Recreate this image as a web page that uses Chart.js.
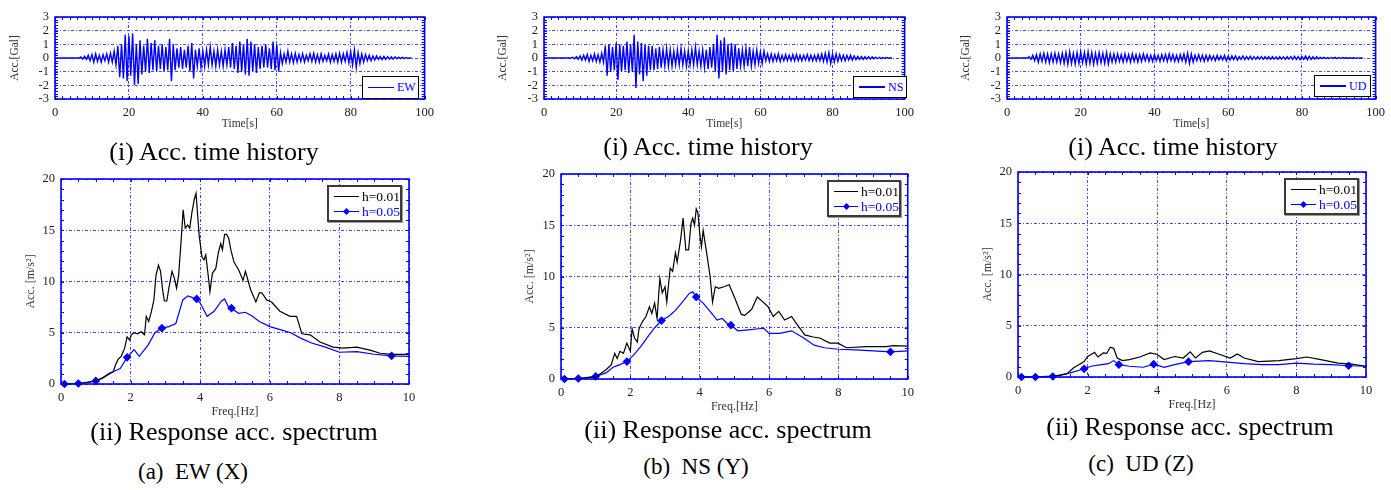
<!DOCTYPE html>
<html>
<head>
<meta charset="utf-8">
<script src="https://cdn.jsdelivr.net/npm/chart.js@4.4.1/dist/chart.umd.min.js"></script>
<style>
body { margin: 0; background: #fff; }
#fig { position: relative; width: 1391px; height: 490px; overflow: hidden; font-family: 'Liberation Serif', 'Times New Roman', serif; }
#fig canvas { position: absolute; }
.cap { position: absolute; transform: translateX(-50%); white-space: pre; line-height: 1; color: #000; }
.leg { position: absolute; background: #fff; box-sizing: border-box; }
.leg .row { display: flex; align-items: center; white-space: nowrap; }
.leg .ln { position: relative; display: inline-block; height: 1.3px; }
.leg .mk { position: absolute; left: 50%; top: 50%; width: 5px; height: 5px; margin: -2.5px 0 0 -2.5px; transform: rotate(45deg); }
.thLeg { border: 1.5px solid #000; }
.thLeg .row { height: 100%; font-size: 12px; }
.spLeg { border: 2px solid #3a3a3a; box-shadow: 1px 1px 0 #999; padding-top: 2px; }
.spLeg .row { height: 15px; font-size: 13.5px; }
</style>
</head>
<body>
<div id="fig"></div>
<script>
/*////////////////////////////// data //////////////////////////////////*/

// acceleration time history, peak (up) and trough (down) per second, t = 0..96 s
const ewUp = [
  0,0,0,0,0,0,0,0.08,0.12,0.2,
  0.25,0.3,0.2,0.25,0.3,0.35,0.5,0.9,1.0,1.7,
  1.6,1.8,1.0,1.3,0.9,1.4,1.1,1.3,0.9,1.0,
  0.8,1.4,1.0,0.7,0.8,0.6,0.9,1.1,0.6,0.7,
  0.5,0.6,0.8,0.5,0.6,0.5,0.6,0.8,1.1,0.9,
  1.2,1.0,1.4,1.2,1.0,0.8,0.9,1.0,0.7,1.2,
  1.0,0.4,0.3,0.5,0.3,0.35,0.25,0.3,0.2,0.3,
  0.35,0.25,0.3,0.2,0.3,0.25,0.3,0.35,0.3,0.4,
  0.45,0.6,0.4,0.3,0.25,0.2,0.15,0.15,0.1,0.12,
  0.1,0.08,0.08,0.06,0.05,0.04,0];
const ewDown = [
  0,0,0,0,0,0,0,-0.08,-0.1,-0.2,
  -0.3,-0.25,-0.3,-0.2,-0.3,-0.3,-0.5,-1.4,-1.5,-1.7,
  -1.3,-2.0,-1.9,-1.2,-1.0,-1.1,-0.9,-1.0,-0.8,-1.0,
  -0.9,-1.7,-0.9,-0.7,-0.8,-0.7,-1.0,-1.5,-0.6,-0.7,
  -0.6,-0.5,-0.5,-0.6,-0.5,-0.6,-0.5,-0.7,-0.8,-1.1,
  -1.0,-1.2,-1.3,-1.0,-1.1,-0.8,-0.7,-0.7,-0.8,-0.9,
  -1.0,-0.4,-0.3,-0.3,-0.35,-0.3,-0.25,-0.3,-0.2,-0.25,
  -0.3,-0.3,-0.25,-0.2,-0.3,-0.25,-0.3,-0.3,-0.25,-0.35,
  -0.5,-0.7,-0.4,-0.3,-0.2,-0.2,-0.15,-0.1,-0.12,-0.1,
  -0.08,-0.08,-0.06,-0.05,-0.05,-0.03,0];

const nsUp = [
  0,0,0,0,0,0,0,0,0.05,0.1,
  0.15,0.2,0.25,0.2,0.3,0.25,0.35,0.9,1.0,0.8,
  1.1,1.0,0.9,1.2,1.0,1.7,1.2,1.1,1.0,0.9,
  0.9,0.7,0.8,0.6,0.7,0.6,0.5,0.6,0.7,0.5,
  0.5,0.6,0.8,0.5,0.6,0.6,0.8,1.0,1.7,1.3,
  1.5,1.0,1.1,1.0,0.7,0.6,0.7,0.8,0.5,0.6,
  0.45,0.5,0.3,0.3,0.25,0.3,0.2,0.25,0.2,0.25,
  0.25,0.2,0.2,0.25,0.2,0.2,0.25,0.3,0.35,0.4,
  0.3,0.3,0.25,0.2,0.2,0.2,0.15,0.12,0.1,0.1,
  0.1,0.08,0.06,0.05,0.04,0.03,0];
const nsDown = [
  0,0,0,0,0,0,0,0,-0.05,-0.1,
  -0.15,-0.15,-0.25,-0.2,-0.25,-0.3,-0.3,-1.3,-1.0,-0.9,
  -1.6,-1.0,-0.9,-1.1,-1.0,-2.2,-1.2,-1.7,-1.3,-0.9,
  -0.9,-0.8,-0.7,-0.6,-0.6,-0.6,-0.5,-0.5,-0.5,-0.6,
  -0.5,-0.5,-0.5,-0.6,-0.7,-0.8,-0.7,-1.0,-1.5,-1.0,
  -1.2,-0.9,-1.0,-0.8,-0.6,-0.6,-0.6,-0.6,-0.5,-0.4,
  -0.4,-0.2,-0.25,-0.25,-0.2,-0.25,-0.2,-0.2,-0.2,-0.2,
  -0.2,-0.2,-0.15,-0.2,-0.2,-0.2,-0.2,-0.25,-0.3,-0.4,
  -0.3,-0.25,-0.2,-0.2,-0.15,-0.15,-0.12,-0.1,-0.1,-0.08,
  -0.08,-0.06,-0.05,-0.04,-0.03,-0.02,0];

const udUp = [
  0,0,0,0,0,0,0.1,0.2,0.25,0.3,
  0.35,0.3,0.3,0.35,0.3,0.35,0.4,0.45,0.35,0.4,
  0.45,0.4,0.45,0.4,0.35,0.4,0.35,0.4,0.3,0.3,
  0.3,0.25,0.3,0.25,0.3,0.25,0.25,0.3,0.25,0.2,
  0.25,0.2,0.25,0.25,0.3,0.25,0.2,0.25,0.3,0.35,
  0.3,0.2,0.25,0.2,0.2,0.2,0.15,0.2,0.15,0.2,
  0.15,0.15,0.15,0.1,0.15,0.1,0.12,0.1,0.1,0.1,
  0.1,0.1,0.1,0.08,0.1,0.08,0.1,0.1,0.12,0.1,
  0.12,0.15,0.12,0.1,0.08,0.05,0.05,0.04,0.04,0.05,
  0.03,0.03,0.02,0.02,0.02,0.01,0];
const udDown = [
  0,0,0,0,0,0,-0.1,-0.2,-0.3,-0.25,
  -0.3,-0.35,-0.3,-0.3,-0.35,-0.4,-0.45,-0.4,-0.45,-0.4,
  -0.35,-0.45,-0.4,-0.45,-0.4,-0.35,-0.4,-0.45,-0.3,-0.3,
  -0.25,-0.3,-0.25,-0.3,-0.25,-0.3,-0.25,-0.2,-0.25,-0.25,
  -0.2,-0.25,-0.2,-0.25,-0.2,-0.25,-0.25,-0.2,-0.3,-0.4,
  -0.3,-0.2,-0.2,-0.25,-0.2,-0.15,-0.2,-0.15,-0.15,-0.2,
  -0.15,-0.12,-0.15,-0.1,-0.12,-0.1,-0.1,-0.1,-0.08,-0.1,
  -0.08,-0.1,-0.08,-0.1,-0.08,-0.1,-0.08,-0.1,-0.1,-0.12,
  -0.1,-0.12,-0.1,-0.08,-0.06,-0.05,-0.04,-0.04,-0.03,-0.04,
  -0.03,-0.02,-0.02,-0.02,-0.01,-0.01,0];

// response acceleration spectra [m/s2]
const ewFreq01 = [0.1,0.3,0.5,0.7,1.0,1.2,1.4,1.5,1.57,1.64,1.73,1.83,1.9,1.97,2.02,2.1,2.2,2.3,2.4,2.45,
  2.52,2.6,2.67,2.73,2.8,2.86,2.92,2.97,3.04,3.1,3.19,3.26,3.32,3.38,3.45,3.51,3.57,3.64,3.7,3.76,
  3.83,3.88,3.92,3.97,4.05,4.11,4.16,4.23,4.28,4.35,4.45,4.52,4.59,4.64,4.7,4.76,4.82,4.88,4.97,5.11,
  5.23,5.3,5.45,5.6,5.7,5.77,5.91,6.05,6.29,6.58,6.77,6.92,7.16,7.44,7.82,8.1,8.5,8.88,9.17,9.5,10];
const ewAcc01 = [0,0.02,0.05,0.1,0.3,0.6,1.07,1.2,1.9,2.4,2.7,3.5,4.6,4.3,4.8,5.0,4.9,5.1,4.8,6.6,
  6.1,7.1,8.2,10.6,11.6,11.0,9.2,8.1,8.1,9.35,11.0,10.3,9.35,10.6,13.9,17.0,15.2,15.5,15.2,16.7,
  18.0,18.6,16.8,14.5,12.4,12.1,12.6,10.6,9.0,10.8,11.3,12.8,13.7,13.1,14.6,14.6,14.2,13.1,11.9,11.1,
  10.1,11.0,9.2,8.0,8.9,8.9,8.2,8.0,7.1,6.6,6.6,4.9,4.8,4.1,3.6,3.5,3.6,3.3,3.0,2.9,2.9];
const ewFreq05 = [0.1,0.5,1.0,1.2,1.5,1.7,1.9,2.1,2.25,2.5,2.7,2.9,3.1,3.3,3.5,3.65,3.8,3.9,4.0,4.2,
  4.4,4.6,4.7,4.8,4.9,5.1,5.3,5.5,5.7,6.0,6.3,6.6,6.9,7.2,7.6,8.0,8.5,9.0,9.5,10];
const ewAcc05 = [0,0.05,0.3,0.6,1.2,1.5,2.6,3.35,2.7,3.8,5.0,5.45,5.6,5.9,8.2,8.6,8.4,8.3,7.9,6.6,
  7.1,8.05,8.3,7.6,7.4,6.9,7.0,6.6,6.1,5.6,5.3,5.0,4.45,4.0,3.6,3.1,3.15,2.9,2.75,2.7];

const nsFreq01 = [0.1,0.5,1.0,1.3,1.45,1.55,1.62,1.7,1.8,1.9,2.0,2.05,2.12,2.2,2.25,2.35,2.45,2.55,2.62,2.7,
  2.77,2.85,2.92,3.0,3.05,3.15,3.22,3.3,3.35,3.45,3.52,3.6,3.68,3.75,3.8,3.85,3.9,3.95,4.0,4.05,
  4.1,4.2,4.3,4.37,4.45,4.55,4.7,4.85,5.0,5.2,5.3,5.5,5.66,5.83,5.97,6.12,6.28,6.45,6.65,6.79,
  7.03,7.27,7.46,7.75,7.99,8.23,8.8,9.38,9.58,10];
const nsAcc01 = [0,0.03,0.2,0.9,1.4,2.5,2.0,2.7,2.5,3.5,2.7,4.9,4.0,3.6,4.9,5.6,6.1,7.05,6.4,7.4,
  5.9,9.8,8.4,9.0,7.5,10.8,10.5,12.3,11.4,13.6,15.7,12.6,12.6,15.2,15.7,15.0,16.6,16.2,14.2,12.9,
  14.5,12.3,10.0,7.5,9.0,8.85,9.0,9.2,8.0,6.3,6.2,6.8,8.0,7.5,7.05,6.1,6.6,5.75,6.1,5.4,
  4.3,4.1,4.0,3.5,3.5,3.05,3.15,3.15,3.25,3.2];
const nsFreq05 = [0.1,0.5,1.0,1.3,1.5,1.7,1.9,2.1,2.3,2.5,2.7,2.9,3.1,3.3,3.5,3.7,3.8,3.9,4.1,4.3,
  4.5,4.65,4.8,4.9,5.1,5.4,5.7,5.85,6.0,6.3,6.65,7.0,7.3,7.6,8.0,8.5,9.0,9.5,10];
const nsAcc05 = [0,0.05,0.25,0.6,1.15,1.4,1.7,2.35,3.15,4.1,5.0,5.7,6.1,6.7,7.5,8.35,8.5,8.0,7.4,6.6,
  5.75,5.9,5.4,5.25,4.7,4.8,4.9,4.95,4.45,4.45,4.7,4.0,3.3,3.05,2.9,2.85,2.75,2.65,2.75];

const udFreq01 = [0.1,0.5,1.0,1.2,1.4,1.6,1.8,1.9,2.0,2.1,2.2,2.3,2.45,2.55,2.65,2.75,2.85,3.0,3.2,3.5,
  3.8,4.0,4.2,4.5,4.75,4.95,5.1,5.3,5.5,5.8,6.1,6.3,6.5,6.9,7.5,8.0,8.3,8.7,9.2,9.6,10];
const udAcc01 = [0,0.02,0.08,0.15,0.3,0.9,1.3,1.5,2.0,2.2,2.4,1.95,2.35,2.3,2.9,2.8,1.85,1.6,1.7,1.95,
  2.35,2.2,1.7,2.0,1.85,2.45,1.85,2.4,2.55,2.2,1.85,2.25,1.85,1.5,1.6,1.8,1.95,1.7,1.35,1.25,1.05];
const udFreq05 = [0.1,0.5,1.0,1.5,1.9,2.1,2.4,2.6,2.75,2.9,3.2,3.6,3.9,4.2,4.5,4.9,5.5,6.0,6.5,7.0,
  7.5,8.0,8.5,9.0,9.5,10];
const udAcc05 = [0,0,0.05,0.4,0.8,1.05,1.2,1.3,1.6,1.2,1.05,0.95,1.25,0.95,1.2,1.5,1.6,1.45,1.3,1.2,
  1.2,1.35,1.25,1.2,1.1,1.05];

// frequencies where the h=0.05 curve carries a marker
const markerFreqs = [0.1, 0.5, 1.0, 1.9, 2.9, 3.9, 4.9, 9.5];

/*////////////////////////////// helpers //////////////////////////////////*/

const SERIF = "'Liberation Serif', 'Times New Roman', serif";
const BLUE = '#0000ff';
const fig = document.getElementById('fig');

const framePlugin = {
    id: 'frame',
    afterDatasetsDraw(chart, args, opts) {
        const {ctx, chartArea: a, scales: {x, y}} = chart;
        ctx.save();
        ctx.strokeStyle = BLUE;
        ctx.lineWidth = 1;
        ctx.beginPath();
        const nx = Math.round((x.max - x.min) / opts.xMinor);
        for (let i = 0; i <= nx; i++) {
            const px = Math.round(x.getPixelForValue(x.min + i * opts.xMinor)) + 0.5;
            ctx.moveTo(px, a.bottom); ctx.lineTo(px, a.bottom - opts.len);
            ctx.moveTo(px, a.top); ctx.lineTo(px, a.top + opts.len);
        }
        const ny = Math.round((y.max - y.min) / opts.yMinor);
        for (let i = 0; i <= ny; i++) {
            const py = Math.round(y.getPixelForValue(y.min + i * opts.yMinor)) + 0.5;
            ctx.moveTo(a.left, py); ctx.lineTo(a.left + opts.len, py);
            ctx.moveTo(a.right, py); ctx.lineTo(a.right - opts.len, py);
        }
        ctx.stroke();
        ctx.lineWidth = 1.6;
        ctx.strokeRect(a.left, a.top, a.right - a.left, a.bottom - a.top);
        ctx.restore();
    }
};

function place(box) {
    const c = document.createElement('canvas');
    c.width = box.w; c.height = box.h;
    c.style.left = box.x + 'px'; c.style.top = box.y + 'px';
    c.style.width = box.w + 'px'; c.style.height = box.h + 'px';
    fig.appendChild(c);
    return c;
}

function scalesFor(box, area, xr, yr, xTitle, yTitle, titleSize, yTitleX, xTitleY) {
    const lh = titleSize * 1.2;
    const grid = {color: 'rgba(50,50,255,0.9)', lineWidth: 1, drawTicks: false};
    const border = {display: false, dash: [3, 2, 1, 2]};
    const tickFont = {family: SERIF, size: 12.5};
    return {
        x: {
            type: 'linear', min: xr[0], max: xr[1],
            ticks: {stepSize: xr[2], font: tickFont, color: '#222', padding: 6, maxRotation: 0, autoSkip: false},
            grid: grid, border: border,
            title: {display: true, text: xTitle, font: {family: SERIF, size: titleSize}, color: '#333',
                    padding: {top: 0, bottom: box.y + box.h - xTitleY - lh / 2}},
            afterFit: s => { s.height = box.y + box.h - area.b; }
        },
        y: {
            type: 'linear', min: yr[0], max: yr[1],
            ticks: {stepSize: yr[2], font: tickFont, color: '#222', padding: 6, autoSkip: false},
            grid: grid, border: border,
            title: {display: true, text: yTitle, font: {family: SERIF, size: titleSize}, color: '#333',
                    padding: {top: yTitleX - box.x - lh / 2, bottom: 0}},
            afterFit: s => { s.width = area.l - box.x; }
        }
    };
}

function caption(text, cx, cy, size) {
    const d = document.createElement('div');
    d.className = 'cap';
    d.textContent = text;
    d.style.fontSize = size + 'px';
    d.style.left = cx + 'px';
    d.style.top = (cy - size / 2) + 'px';
    fig.appendChild(d);
}

function legendRow(ds, lineW, textColor) {
    const row = document.createElement('div');
    row.className = 'row';
    const ln = document.createElement('span');
    ln.className = 'ln';
    ln.style.width = lineW + 'px';
    ln.style.background = ds.borderColor;
    ln.style.margin = '0 3px 0 5px';
    if (ds.markerFreqs) {
        const mk = document.createElement('span');
        mk.className = 'mk';
        mk.style.background = ds.borderColor;
        ln.appendChild(mk);
    }
    const tx = document.createElement('span');
    tx.textContent = ds.label;
    tx.style.color = textColor;
    row.appendChild(ln);
    row.appendChild(tx);
    return row;
}

function timeChart(box, area, yTitleX, label, up, down, leg) {
    const pts = [];
    up.forEach((v, i) => {
        pts.push({x: i, y: v});
        pts.push({x: i + 0.5, y: down[i]});
    });
    const chart = new Chart(place(box), {
        type: 'line',
        data: {datasets: [{label: label, data: pts, borderColor: BLUE, borderWidth: 1.4, pointRadius: 0, tension: 0}]},
        options: {
            responsive: false, animation: false, events: [],
            layout: {padding: {left: 0, top: area.t - box.y, right: box.x + box.w - area.r, bottom: 0}},
            scales: scalesFor(box, area, [0, 100, 20], [-3, 3, 1], 'Time[s]', 'Acc.[Gal]', 11.5, yTitleX, 124),
            plugins: {legend: {display: false}, tooltip: {enabled: false},
                      frame: {xMinor: 2, yMinor: 0.2, len: 3}}
        },
        plugins: [framePlugin]
    });
    const d = document.createElement('div');
    d.className = 'leg thLeg';
    d.style.left = leg.x + 'px'; d.style.top = leg.y + 'px';
    d.style.width = leg.w + 'px'; d.style.height = leg.h + 'px';
    chart.data.datasets.forEach(ds => d.appendChild(legendRow(ds, 26, BLUE)));
    fig.appendChild(d);
}

function specChart(box, area, yTitleX, xTitleY, f01, a01, f05, a05, leg) {
    const chart = new Chart(place(box), {
        type: 'line',
        data: {
            datasets: [
                {label: 'h=0.01', data: f01.map((f, i) => ({x: f, y: a01[i]})),
                 borderColor: '#000000', borderWidth: 1.2, pointRadius: 0, tension: 0},
                {label: 'h=0.05', data: f05.map((f, i) => ({x: f, y: a05[i]})), markerFreqs: markerFreqs,
                 borderColor: BLUE, backgroundColor: BLUE, borderWidth: 1.2, tension: 0, clip: false,
                 pointStyle: 'rectRot', pointBackgroundColor: BLUE, pointBorderColor: BLUE,
                 pointRadius: c => (c.raw && markerFreqs.includes(c.raw.x)) ? 3.5 : 0}
            ]
        },
        options: {
            responsive: false, animation: false, events: [],
            layout: {padding: {left: 0, top: area.t - box.y, right: box.x + box.w - area.r, bottom: 0}},
            scales: scalesFor(box, area, [0, 10, 2], [0, 20, 5], 'Freq.[Hz]', 'Acc. [m/s\u00B2]', 12, yTitleX, xTitleY),
            plugins: {legend: {display: false}, tooltip: {enabled: false},
                      frame: {xMinor: 0.5, yMinor: 1, len: 3}}
        },
        plugins: [framePlugin]
    });
    const d = document.createElement('div');
    d.className = 'leg spLeg';
    d.style.left = leg.x + 'px'; d.style.top = leg.y + 'px';
    d.style.width = leg.w + 'px'; d.style.height = leg.h + 'px';
    chart.data.datasets.forEach(ds => d.appendChild(legendRow(ds, 30, ds.borderColor === BLUE ? BLUE : '#000')));
    fig.appendChild(d);
}

/*////////////////////////////// figure //////////////////////////////////*/

timeChart({x: 0, y: 0, w: 440, h: 130}, {l: 55, t: 17, r: 425, b: 99}, 15, 'EW', ewUp, ewDown,
          {x: 362, y: 76, w: 57, h: 23});
timeChart({x: 470, y: 0, w: 450, h: 130}, {l: 544, t: 17, r: 913, b: 99}, 503, 'NS', nsUp, nsDown,
          {x: 853, y: 76, w: 54, h: 22});
timeChart({x: 940, y: 0, w: 451, h: 130}, {l: 1007, t: 17, r: 1376, b: 99}, 966, 'UD', udUp, udDown,
          {x: 1314, y: 75, w: 57, h: 22});

specChart({x: 0, y: 160, w: 430, h: 260}, {l: 61, t: 179, r: 409, b: 384}, 31, 412,
          ewFreq01, ewAcc01, ewFreq05, ewAcc05, {x: 327, y: 185, w: 75, h: 37});
specChart({x: 480, y: 155, w: 440, h: 260}, {l: 561, t: 174, r: 908, b: 379}, 530, 407,
          nsFreq01, nsAcc01, nsFreq05, nsAcc05, {x: 827, y: 180, w: 74, h: 37});
specChart({x: 940, y: 155, w: 451, h: 260}, {l: 1018, t: 172, r: 1366, b: 377}, 988, 405,
          udFreq01, udAcc01, udFreq05, udAcc05, {x: 1284, y: 178, w: 75, h: 37});

caption('(i) Acc. time history', 214, 152, 26);
caption('(i) Acc. time history', 708, 147, 26);
caption('(i) Acc. time history', 1173, 147, 26);
caption('(ii) Response acc. spectrum', 234, 432, 26);
caption('(ii) Response acc. spectrum', 728, 430, 26);
caption('(ii) Response acc. spectrum', 1190, 427, 26);
caption('(a)  EW (X)', 193, 471, 23);
caption('(b)  NS (Y)', 696, 466, 23);
caption('(c)  UD (Z)', 1141, 463, 23);
</script>
</body>
</html>
